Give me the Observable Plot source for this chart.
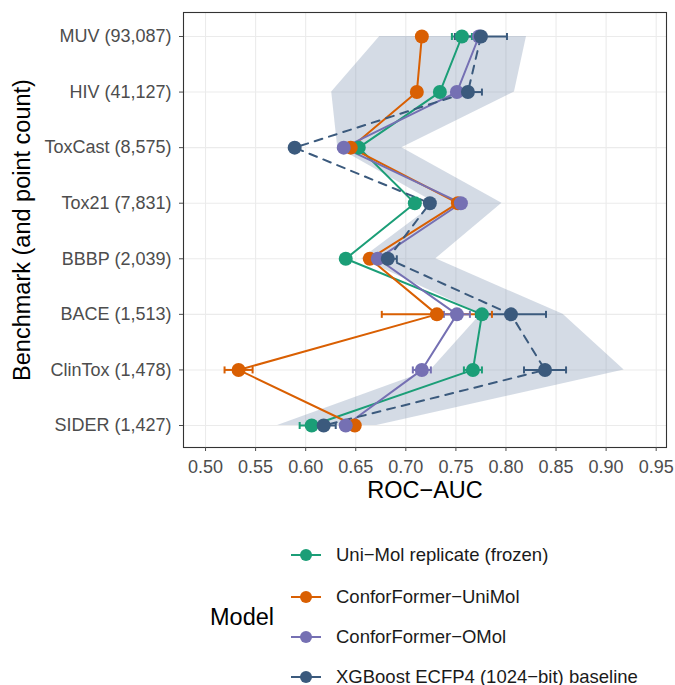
<!DOCTYPE html>
<html><head><meta charset="utf-8">
<script src="https://cdn.jsdelivr.net/npm/d3@7"></script>
<script src="https://cdn.jsdelivr.net/npm/@observablehq/plot@0.6"></script>
<style>
body{margin:0;background:#fff;}
#wrap{position:relative;width:675px;height:685px;overflow:hidden;background:#fff;font-family:"Liberation Sans",Arial,sans-serif;}
#wrap svg.plot{position:absolute;left:0;top:0;}
.lg-title{position:absolute;font-size:23.5px;color:#000;line-height:1;}
.lg-item{position:absolute;height:20px;}
.lg-item svg{position:absolute;left:0;top:0;}
.lg-item span{position:absolute;left:46px;top:0;font-size:18.5px;line-height:20px;color:#1a1a1a;white-space:nowrap;}
</style></head><body><div id="wrap"></div>
<script>
const benchmarks = ["MUV (93,087)", "HIV (41,127)", "ToxCast (8,575)", "Tox21 (7,831)", "BBBP (2,039)", "BACE (1,513)", "ClinTox (1,478)", "SIDER (1,427)"];
const models = ["Uni\u2212Mol replicate (frozen)", "ConforFormer\u2212UniMol", "ConforFormer\u2212OMol", "XGBoost ECFP4 (1024\u2212bit) baseline"];
const colors = ["#1b9e77", "#d95f02", "#7570b3", "#3b5a7d"];
const xTicks = [0.50, 0.55, 0.60, 0.65, 0.70, 0.75, 0.80, 0.85, 0.90, 0.95];

const uniMol      = [0.756, 0.734, 0.653, 0.709, 0.640, 0.776, 0.767, 0.606];
const uniMolErr   = [0.010, 0, 0, 0, 0, 0.005, 0.009, 0.012];
const cfUniMol    = [0.716, 0.711, 0.645, 0.752, 0.664, 0.731, 0.533, 0.649];
const cfUniMolErr = [0, 0, 0, 0, 0, 0.055, 0.014, 0];
const cfOMol      = [0.773, 0.751, 0.638, 0.755, 0.672, 0.751, 0.716, 0.640];
const cfOMolErr   = [0, 0, 0, 0, 0, 0.013, 0.009, 0];
const xgb         = [0.775, 0.762, 0.589, 0.724, 0.682, 0.805, 0.839, 0.618];
const xgbErr      = [0.026, 0.014, 0, 0, 0.009, 0.035, 0.021, 0.012];
const bandLow     = [0.674, 0.626, 0.632, 0.730, 0.656, 0.775, 0.725, 0.572];
const bandHigh    = [0.8205, 0.8085, 0.696, 0.796, 0.730, 0.857, 0.918, 0.671];

const values = [uniMol, cfUniMol, cfOMol, xgb];
const errs = [uniMolErr, cfUniMolErr, cfOMolErr, xgbErr];
const rows = [];
models.forEach((m, k) => benchmarks.forEach((b, i) => rows.push({model: m, bench: b, value: values[k][i], err: errs[k][i]})));
const errRows = rows.filter(d => d.err > 0);
const band = benchmarks.map((b, i) => ({bench: b, lo: bandLow[i], hi: bandHigh[i]}));

// vertical cap symbol for error bars (half-height equals the dot radius)
const capSymbol = {draw(context, size) { const h = Math.sqrt(size / Math.PI); context.moveTo(0, -h); context.lineTo(0, h); }};

const font = '"Liberation Sans", Arial, sans-serif';
const plot = Plot.plot({
  width: 675, height: 510,
  marginLeft: 183, marginRight: 9, marginTop: 12, marginBottom: 63,
  style: {fontFamily: font, background: "#fff", overflow: "visible"},
  x: {domain: [0.478, 0.9603]},
  y: {type: "point", domain: benchmarks, range: [36, 425], padding: 0, round: false},
  color: {domain: models, range: colors},
  marks: [
    Plot.frame({fill: "#fff"}),
    Plot.gridX(xTicks, {stroke: "#ebebeb", strokeOpacity: 1, strokeWidth: 1.1}),
    Plot.gridY(benchmarks, {stroke: "#ebebeb", strokeOpacity: 1, strokeWidth: 1.1}),
    Plot.areaX(band, {y: "bench", x1: "lo", x2: "hi", fill: "#6f88aa", fillOpacity: 0.3}),
    Plot.line(rows.filter(d => d.model !== models[3]), {x: "value", y: "bench", stroke: "model", z: "model", strokeWidth: 2}),
    Plot.line(rows.filter(d => d.model === models[3]), {x: "value", y: "bench", stroke: "model", z: "model", strokeWidth: 2, strokeDasharray: "8,7"}),
    Plot.link(errRows, {x1: d => d.value - d.err, x2: d => d.value + d.err, y1: "bench", y2: "bench", stroke: "model", strokeWidth: 2}),
    Plot.dot(errRows, {x: d => d.value - d.err, y: "bench", stroke: "model", fill: "none", symbol: capSymbol, r: 3.5, strokeWidth: 2}),
    Plot.dot(errRows, {x: d => d.value + d.err, y: "bench", stroke: "model", fill: "none", symbol: capSymbol, r: 3.5, strokeWidth: 2}),
    Plot.dot(rows, {x: "value", y: "bench", fill: "model", r: 7}),
    Plot.frame({stroke: "#333", strokeWidth: 1.1}),
    Plot.axisX(xTicks, {tickFormat: ".2f", tickSize: 4, tickPadding: 9, fontSize: 18, color: "#4d4d4d", label: null}),
    Plot.axisY({tickSize: 4, tickPadding: 8, fontSize: 18, color: "#4d4d4d", label: null}),
    Plot.text(["ROC\u2212AUC"], {text: d => d, frameAnchor: "bottom", dy: 43, lineAnchor: "middle", textAnchor: "middle", fontSize: 23.5, fill: "#000"}),
    Plot.text(["Benchmark (and point count)"], {text: d => d, frameAnchor: "left", dx: -161, rotate: -90, textAnchor: "middle", lineAnchor: "middle", fontSize: 23.5, fill: "#000"})
  ]
});
plot.classList.add("plot");
const wrap = document.getElementById("wrap");
wrap.appendChild(plot);

// legend
const title = document.createElement("div");
title.className = "lg-title";
title.textContent = "Model";
title.style.left = "210px";
title.style.top = "606px";
wrap.appendChild(title);
const rowY = [555, 597, 637, 677];
models.forEach((m, k) => {
  const item = d3.select(wrap).append("div").attr("class", "lg-item")
    .style("left", "290px").style("top", (rowY[k] - 10) + "px");
  const s = item.append("svg").attr("width", 32).attr("height", 20);
  s.append("line").attr("x1", 1).attr("x2", 31).attr("y1", 10).attr("y2", 10)
    .attr("stroke", colors[k]).attr("stroke-width", 2);
  s.append("circle").attr("cx", 16).attr("cy", 10).attr("r", 6).attr("fill", colors[k]);
  item.append("span").text(m);
});
</script></body></html>
